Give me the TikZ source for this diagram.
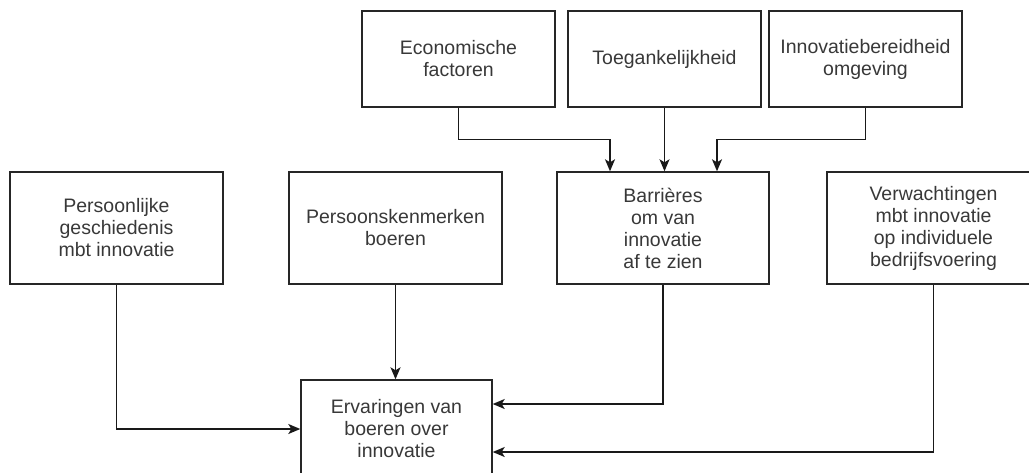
\documentclass[tikz,border=0pt]{standalone}
\usepackage{fontspec}
\setmainfont{Liberation Sans}
\usetikzlibrary{arrows.meta}
\begin{document}
\begin{tikzpicture}[x=1pt,y=-1pt,
  box/.style={draw=black!85, line width=1.4pt, align=center, inner sep=0pt,
    font=\fontsize{19.5}{22}\selectfont, text=black!78},
  arr/.style={draw=black!90, line width=1.4pt, -{Stealth[length=12pt,width=10pt,inset=3pt]}},
  plain/.style={draw=black!90, line width=1.4pt}]
\useasboundingbox (0,0) rectangle (1029,472);
% top row
\node[box, minimum width=193pt, minimum height=96pt] (econ) at (458.5,59) {Economische\\factoren};
\node[box, minimum width=193pt, minimum height=96pt] (toeg) at (664.5,59) {Toegankelijkheid};
\node[box, minimum width=193pt, minimum height=96pt] (innov) at (865.5,59) {Innovatiebereidheid\\omgeving};
% middle row
\node[box, minimum width=213pt, minimum height=112pt] (pers1) at (116.5,228) {Persoonlijke\\geschiedenis\\mbt innovatie};
\node[box, minimum width=213pt, minimum height=112pt] (pers2) at (395.5,228) {Persoonskenmerken\\boeren};
\node[box, minimum width=212pt, minimum height=112pt] (barr) at (663,228) {Barrières\\om van\\innovatie\\af te zien};
\node[box, minimum width=213pt, minimum height=112pt] (verw) at (933.5,228) {Verwachtingen\\mbt innovatie\\op individuele\\bedrijfsvoering};
% bottom
\node[box, minimum width=191pt, minimum height=98pt] (erv) at (396.5,429) {Ervaringen van\\boeren over\\innovatie};
% connectors
\draw[arr] (econ.south) -- ++(0,32) -| ([xshift=-53pt]barr.north);
\draw[arr] (toeg.south) -- (toeg.south |- barr.north);
\draw[arr] (innov.south) -- ++(0,32) -| ([xshift=54pt]barr.north);
\draw[arr] (pers1.south) |- (erv.west);
\draw[arr] (pers2.south) -- (pers2.south |- erv.north);
\draw[arr] (barr.south) |- ([yshift=25pt]erv.east);
\draw[arr] (verw.south) |- ([yshift=-23pt]erv.east);
\end{tikzpicture}
\end{document}
